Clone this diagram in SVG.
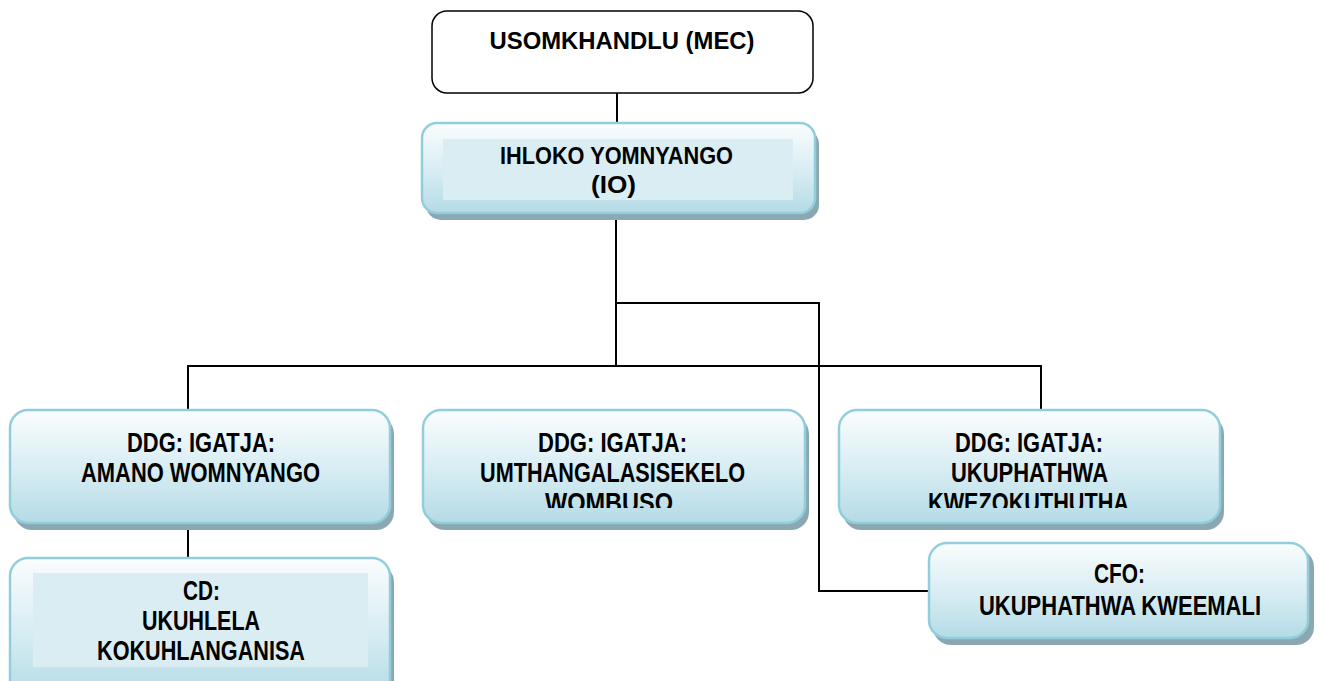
<svg xmlns="http://www.w3.org/2000/svg" width="1321" height="681" viewBox="0 0 1321 681">
  <defs>
    <linearGradient id="g" x1="0" y1="0" x2="0" y2="1">
      <stop offset="0" stop-color="#fafdfe"/>
      <stop offset="0.55" stop-color="#d6ecf2"/>
      <stop offset="1" stop-color="#b4dbe6"/>
    </linearGradient>
    <clipPath id="c2"><rect x="423" y="410" width="382" height="98"/></clipPath>
    <clipPath id="c3"><rect x="839" y="410" width="381" height="98"/></clipPath>
  </defs>
  <style>
    .box{fill:url(#g);stroke:#92cddc;stroke-width:2.5}
    .sh{fill:#8ba8b2}
    .inner{fill:#daedf3}
    .t{font-family:"Liberation Sans",Arial,sans-serif;font-weight:bold;font-size:27px;fill:#000;text-anchor:middle}
    .ln{fill:none;stroke:#000;stroke-width:2}
  </style>
  <rect width="1321" height="681" fill="#fff"/>

  <g id="connectors">
    <path class="ln" d="M617 93 V123"/>
    <path class="ln" d="M616 215 V366"/>
    <path class="ln" d="M616 303 H819 V591 H929"/>
    <path class="ln" d="M188 410 V366 H1041 V410"/>
    <path class="ln" d="M188 523 V558"/>
  </g>

  <g id="mec">
    <rect x="432" y="11" width="381" height="82" rx="15" fill="#fff" stroke="#000" stroke-width="1.5"/>
    <text class="t" x="622" y="49" textLength="265" lengthAdjust="spacingAndGlyphs" style="font-size:23px">USOMKHANDLU (MEC)</text>
  </g>

  <g id="io">
    <rect class="sh" x="426" y="129" width="393" height="91" rx="15"/>
    <rect class="box" x="422" y="123" width="393" height="90" rx="15"/>
    <rect class="inner" x="443" y="139" width="350" height="61"/>
    <text class="t" x="616.5" y="164" textLength="233" lengthAdjust="spacingAndGlyphs" style="font-size:24px">IHLOKO YOMNYANGO</text>
    <text class="t" x="613.5" y="193" textLength="45" lengthAdjust="spacingAndGlyphs" style="font-size:24px">(IO)</text>
  </g>

  <g id="ddg1">
    <rect class="sh" x="14" y="416" width="380" height="114" rx="18"/>
    <rect class="box" x="10" y="410" width="380" height="113" rx="18"/>
    <text class="t" x="201" y="452" textLength="148" lengthAdjust="spacingAndGlyphs">DDG: IGATJA:</text>
    <text class="t" x="200.5" y="482" textLength="239" lengthAdjust="spacingAndGlyphs">AMANO WOMNYANGO</text>
  </g>

  <g id="ddg2">
    <rect class="sh" x="427" y="416" width="382" height="114" rx="18"/>
    <rect class="box" x="423" y="410" width="382" height="113" rx="18"/>
    <g clip-path="url(#c2)">
      <text class="t" x="612.5" y="452" textLength="149" lengthAdjust="spacingAndGlyphs">DDG: IGATJA:</text>
      <text class="t" x="612.5" y="482" textLength="265" lengthAdjust="spacingAndGlyphs">UMTHANGALASISEKELO</text>
      <text class="t" x="609" y="512" textLength="128" lengthAdjust="spacingAndGlyphs">WOMBUSO</text>
    </g>
  </g>

  <g id="ddg3">
    <rect class="sh" x="843" y="416" width="381" height="114" rx="18"/>
    <rect class="box" x="839" y="410" width="381" height="113" rx="18"/>
    <g clip-path="url(#c3)">
      <text class="t" x="1029" y="452" textLength="148" lengthAdjust="spacingAndGlyphs">DDG: IGATJA:</text>
      <text class="t" x="1029.5" y="482" textLength="157" lengthAdjust="spacingAndGlyphs">UKUPHATHWA</text>
      <text class="t" x="1028.5" y="512" textLength="201" lengthAdjust="spacingAndGlyphs">KWEZOKUTHUTHA</text>
    </g>
  </g>

  <g id="cd">
    <rect class="sh" x="14" y="564" width="380" height="140" rx="18"/>
    <rect class="box" x="10" y="558" width="380" height="140" rx="18"/>
    <rect class="inner" x="33" y="573" width="335" height="94"/>
    <text class="t" x="201.5" y="600" textLength="37" lengthAdjust="spacingAndGlyphs">CD:</text>
    <text class="t" x="201" y="630" textLength="118" lengthAdjust="spacingAndGlyphs">UKUHLELA</text>
    <text class="t" x="201" y="660" textLength="208" lengthAdjust="spacingAndGlyphs">KOKUHLANGANISA</text>
  </g>

  <g id="cfo">
    <rect class="sh" x="933" y="549" width="381" height="96" rx="18"/>
    <rect class="box" x="929" y="543" width="379" height="95" rx="18"/>
    <text class="t" x="1119.5" y="583" textLength="51" lengthAdjust="spacingAndGlyphs">CFO:</text>
    <text class="t" x="1120" y="615" textLength="282" lengthAdjust="spacingAndGlyphs">UKUPHATHWA KWEEMALI</text>
  </g>
</svg>
